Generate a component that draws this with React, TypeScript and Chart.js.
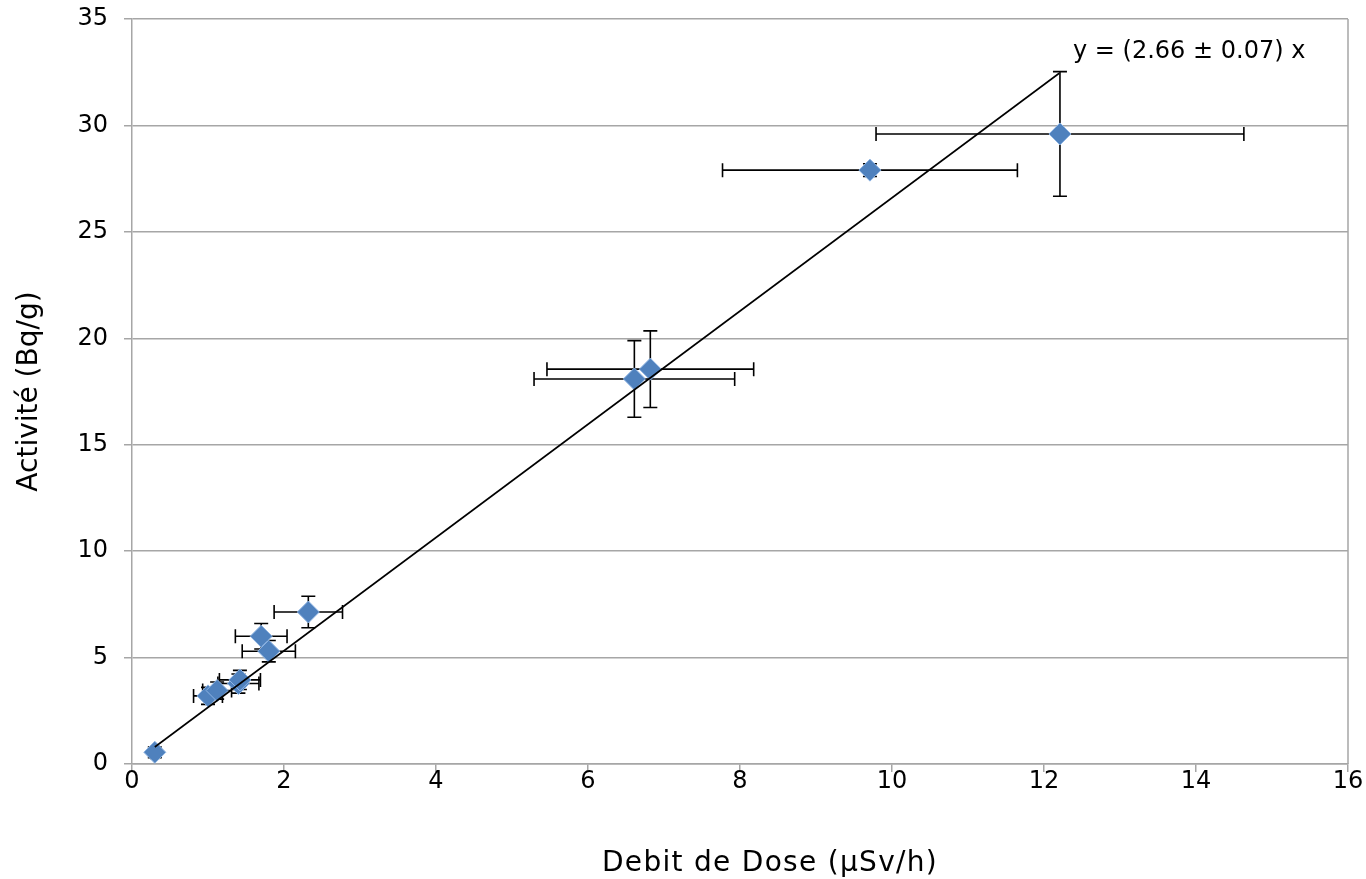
import React, { useEffect, useRef } from "react";
import { Chart, registerables } from "chart.js";

Chart.register(...registerables);

const xVals = [0.3, 1.0, 1.12, 1.4, 1.42, 1.8, 1.7, 2.32, 6.61, 6.82, 9.71, 12.21];
const yVals = [0.55, 3.2, 3.45, 3.78, 3.95, 5.3, 6.0, 7.14, 18.09, 18.55, 27.9, 29.6];
const xErr = [0.05, 0.19, 0.19, 0.27, 0.27, 0.35, 0.34, 0.45, 1.32, 1.36, 1.94, 2.42];
const yErr = [0.25, 0.4, 0.4, 0.45, 0.45, 0.5, 0.6, 0.74, 1.8, 1.8, 0.3, 2.93];

const slope = 2.66;
const trendX = [0.3, 12.2];
const equationText = "y = (2.66 \u00b1 0.07) x";
const xTitle = "Debit de Dose (\u00b5Sv/h)";
const yTitle = "Activit\u00e9 (Bq/g)";
const xTicks = [0, 2, 4, 6, 8, 10, 12, 14, 16];
const yTicks = [0, 5, 10, 15, 20, 25, 30, 35];

const FONT = "'DejaVu Sans', sans-serif";

const errorBarPlugin = {
  id: "errorBars",
  beforeDatasetsDraw(chart: any) {
    const ctx = chart.ctx;
    const xs = chart.scales.x;
    const ys = chart.scales.y;
    const cap = 7;
    ctx.save();
    ctx.strokeStyle = "#000";
    ctx.lineWidth = 1.6;
    for (let i = 0; i < xVals.length; i++) {
      const px = xs.getPixelForValue(xVals[i]);
      const py = ys.getPixelForValue(yVals[i]);
      const xl = xs.getPixelForValue(xVals[i] - xErr[i]);
      const xr = xs.getPixelForValue(xVals[i] + xErr[i]);
      const yt = ys.getPixelForValue(yVals[i] + yErr[i]);
      const yb = ys.getPixelForValue(yVals[i] - yErr[i]);
      ctx.beginPath();
      ctx.moveTo(xl, py);
      ctx.lineTo(xr, py);
      ctx.moveTo(xl, py - cap);
      ctx.lineTo(xl, py + cap);
      ctx.moveTo(xr, py - cap);
      ctx.lineTo(xr, py + cap);
      ctx.moveTo(px, yt);
      ctx.lineTo(px, yb);
      ctx.moveTo(px - cap, yt);
      ctx.lineTo(px + cap, yt);
      ctx.moveTo(px - cap, yb);
      ctx.lineTo(px + cap, yb);
      ctx.stroke();
    }
    ctx.restore();
  },
  afterDatasetsDraw(chart: any) {
    const ctx = chart.ctx;
    const a = chart.chartArea;
    ctx.save();
    ctx.strokeStyle = "#A6A6A6";
    ctx.lineWidth = 1.5;
    ctx.beginPath();
    ctx.moveTo(a.right, a.top);
    ctx.lineTo(a.right, a.bottom);
    ctx.stroke();
    ctx.fillStyle = "#000";
    ctx.font = "24px " + FONT;
    ctx.textBaseline = "middle";
    ctx.textAlign = "left";
    ctx.fillText(equationText, 1073, 52);
    ctx.font = "28px " + FONT;
    try {
      (ctx as any).letterSpacing = "1.3px";
    } catch (e) {}
    ctx.textAlign = "center";
    ctx.textBaseline = "alphabetic";
    ctx.fillText(xTitle, 770, 871);
    ctx.restore();
  },
};

export default function App() {
  const ref = useRef<HTMLCanvasElement>(null);
  useEffect(() => {
    if (!ref.current) return;
    const chart = new Chart(ref.current, {
      type: "scatter",
      data: {
        datasets: [
          {
            type: "line",
            data: trendX.map((x) => ({ x, y: slope * x })),
            borderColor: "#000",
            borderWidth: 1.6,
            pointRadius: 0,
            fill: false,
            order: 0,
          } as any,
          {
            type: "scatter",
            data: xVals.map((x, i) => ({ x, y: yVals[i] })),
            pointStyle: "rectRot",
            pointRadius: 11,
            backgroundColor: "#4F81BD",
            borderColor: "#8DB3E2",
            borderWidth: 1,
            order: 1,
          },
        ],
      },
      options: {
        animation: false,
        responsive: false,
        maintainAspectRatio: false,
        layout: { padding: { top: 19, right: 18, left: 0, bottom: 0 } },
        plugins: { legend: { display: false }, tooltip: { enabled: false } },
        scales: {
          x: {
            type: "linear",
            min: 0,
            max: 16,
            afterBuildTicks: (s: any) => {
              s.ticks = xTicks.map((v) => ({ value: v }));
            },
            afterFit: (s: any) => {
              s.height = 115;
              s.paddingLeft = 0;
              s.paddingRight = 0;
            },
            grid: {
              drawOnChartArea: false,
              color: "#A6A6A6",
              lineWidth: 1.5,
              tickLength: 8,
            },
            border: { color: "#A6A6A6", width: 1.5 },
            ticks: {
              font: { family: FONT, size: 24 },
              color: "#000",
              padding: -5,
              maxRotation: 0,
            },
            title: { display: false },
          },
          y: {
            type: "linear",
            min: 0,
            max: 35,
            afterBuildTicks: (s: any) => {
              s.ticks = yTicks.map((v) => ({ value: v }));
            },
            afterFit: (s: any) => {
              s.width = 132;
              s.paddingTop = 0;
              s.paddingBottom = 0;
            },
            grid: {
              color: "#A6A6A6",
              lineWidth: 1.5,
              tickLength: 8,
            },
            border: { color: "#A6A6A6", width: 1.5 },
            ticks: {
              font: { family: FONT, size: 24 },
              color: "#000",
              padding: 16,
            },
            title: {
              display: true,
              text: yTitle,
              font: { family: FONT, size: 28 },
              color: "#000",
              padding: { top: 13, bottom: 0 },
            },
          },
        },
      },
      plugins: [errorBarPlugin],
    });
    return () => chart.destroy();
  }, []);
  return (
    <div style={{ position: "fixed", left: 0, top: 0, width: 1366, height: 879, background: "#fff" }}>
      <canvas ref={ref} width={1366} height={879} style={{ width: 1366, height: 879 }} />
    </div>
  );
}
